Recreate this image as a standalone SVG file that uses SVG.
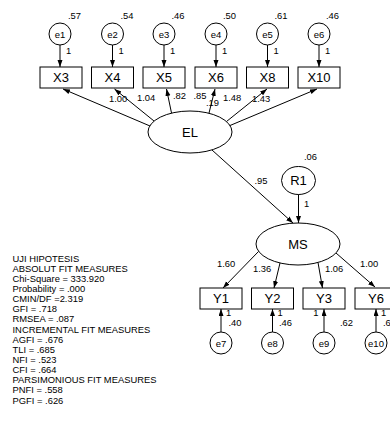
<svg xmlns="http://www.w3.org/2000/svg" width="390" height="421" viewBox="0 0 390 421">
<defs>
<marker id="ah" markerUnits="userSpaceOnUse" markerWidth="8" markerHeight="6" refX="7" refY="2.5" orient="auto">
<path d="M0,0 L7,2.5 L0,5 z" fill="#000"/>
</marker>
<style>
.n{fill:#fff;stroke:#000;stroke-width:1}
.c line{stroke:#000;stroke-width:1;marker-end:url(#ah)}
text{font-family:"Liberation Sans",Arial,sans-serif;fill:#000}
.big{font-size:13px;text-anchor:middle}
.e{font-size:9.5px;text-anchor:middle}
.s{font-size:9.4px}
.r{text-anchor:end}
</style>
</defs>
<rect width="390" height="421" fill="#fff"/>

<g id="connectors" class="c">
<line x1="60" y1="45" x2="60" y2="67"/>
<line x1="112.5" y1="45" x2="112.5" y2="67"/>
<line x1="164" y1="45" x2="164" y2="67"/>
<line x1="216" y1="45" x2="216" y2="67"/>
<line x1="267.5" y1="45" x2="267.5" y2="67"/>
<line x1="319" y1="45" x2="319" y2="67"/>
<line x1="150" y1="126" x2="63" y2="89"/>
<line x1="154" y1="121" x2="114.5" y2="89"/>
<line x1="171.5" y1="113" x2="166.5" y2="89"/>
<line x1="209" y1="113" x2="215" y2="89"/>
<line x1="226.5" y1="121.5" x2="267" y2="89"/>
<line x1="230" y1="125.5" x2="317" y2="89"/>
<line x1="212" y1="150" x2="293" y2="223"/>
<line x1="298.5" y1="194" x2="298.5" y2="223"/>
<line x1="258.5" y1="251.5" x2="223" y2="288"/>
<line x1="280" y1="263" x2="274" y2="288"/>
<line x1="318" y1="262.5" x2="322.5" y2="288"/>
<line x1="336" y1="253" x2="375" y2="287"/>
<line x1="221" y1="332" x2="221" y2="309"/>
<line x1="272.5" y1="332" x2="272.5" y2="309"/>
<line x1="324" y1="332" x2="324" y2="309"/>
<line x1="376" y1="332" x2="376" y2="309"/>
</g>

<g id="connector-labels" class="s">
<text x="66" y="54">1</text>
<text x="118.5" y="54">1</text>
<text x="170" y="54">1</text>
<text x="222" y="54">1</text>
<text x="273.5" y="54">1</text>
<text x="325" y="54">1</text>
<text x="109" y="102">1.00</text>
<text x="137" y="101">1.04</text>
<text x="173" y="98.5">.82</text>
<text x="193.5" y="98.5">.85</text>
<text x="206" y="106">.19</text>
<text x="223" y="101">1.48</text>
<text x="252" y="102">1.43</text>
<text x="254.5" y="184">.95</text>
<text x="304" y="207">1</text>
<text x="217" y="267">1.60</text>
<text x="253" y="272">1.36</text>
<text x="325" y="272">1.06</text>
<text x="360" y="267">1.00</text>
<text x="226" y="316">1</text>
<text x="277.5" y="316">1</text>
<text x="318.5" y="316" class="r">1</text>
<text x="381" y="316">1</text>
</g>

<g id="e1"><circle class="n" cx="60" cy="34" r="11"/><text class="e" x="60" y="37.5">e1</text><text class="s" x="68" y="18.5">.57</text></g>
<g id="e2"><circle class="n" cx="112.5" cy="34" r="11"/><text class="e" x="112.5" y="37.5">e2</text><text class="s" x="120.5" y="18.5">.54</text></g>
<g id="e3"><circle class="n" cx="164" cy="34" r="11"/><text class="e" x="164" y="37.5">e3</text><text class="s" x="171.5" y="18.5">.46</text></g>
<g id="e4"><circle class="n" cx="216" cy="34" r="11"/><text class="e" x="216" y="37.5">e4</text><text class="s" x="223" y="18.5">.50</text></g>
<g id="e5"><circle class="n" cx="267.5" cy="34" r="11"/><text class="e" x="267.5" y="37.5">e5</text><text class="s" x="274.5" y="18.5">.61</text></g>
<g id="e6"><circle class="n" cx="319" cy="34" r="11"/><text class="e" x="319" y="37.5">e6</text><text class="s" x="326" y="18.5">.46</text></g>

<g id="X3"><rect class="n" x="40" y="67" width="42" height="21"/><text class="big" x="61" y="82">X3</text></g>
<g id="X4"><rect class="n" x="91.5" y="67" width="42" height="21"/><text class="big" x="112.5" y="82">X4</text></g>
<g id="X5"><rect class="n" x="143" y="67" width="42" height="21"/><text class="big" x="164" y="82">X5</text></g>
<g id="X6"><rect class="n" x="195" y="67" width="42" height="21"/><text class="big" x="216" y="82">X6</text></g>
<g id="X8"><rect class="n" x="246.5" y="67" width="42" height="21"/><text class="big" x="267.5" y="82">X8</text></g>
<g id="X10"><rect class="n" x="298" y="67" width="42" height="21"/><text class="big" x="319" y="82">X10</text></g>

<g id="EL"><ellipse class="n" cx="190" cy="132" rx="42" ry="21"/><text class="big" x="190" y="137">EL</text></g>
<g id="R1"><ellipse class="n" cx="298.5" cy="180.5" rx="17" ry="14"/><text class="big" x="298.5" y="185">R1</text><text class="s" x="304" y="160">.06</text></g>
<g id="MS"><ellipse class="n" cx="298" cy="244" rx="42" ry="21"/><text class="big" x="298" y="249">MS</text></g>

<g id="Y1"><rect class="n" x="200" y="288" width="42" height="21"/><text class="big" x="221" y="303">Y1</text></g>
<g id="Y2"><rect class="n" x="251.5" y="288" width="42" height="21"/><text class="big" x="272.5" y="303">Y2</text></g>
<g id="Y3"><rect class="n" x="303" y="288" width="42" height="21"/><text class="big" x="324" y="303">Y3</text></g>
<g id="Y6"><rect class="n" x="355" y="288" width="42" height="21"/><text class="big" x="376" y="303">Y6</text></g>

<g id="e7"><circle class="n" cx="221" cy="343" r="11"/><text class="e" x="221" y="346.5">e7</text><text class="s" x="228.5" y="326">.40</text></g>
<g id="e8"><circle class="n" cx="272.5" cy="343" r="11"/><text class="e" x="272.5" y="346.5">e8</text><text class="s" x="279" y="326">.46</text></g>
<g id="e9"><circle class="n" cx="324" cy="343" r="11"/><text class="e" x="324" y="346.5">e9</text><text class="s" x="340" y="326">.62</text></g>
<g id="e10"><circle class="n" cx="376" cy="343" r="11"/><text class="e" x="376" y="346.5">e10</text><text class="s" x="383" y="326">.6</text></g>

<g id="fit-measures" class="s">
<text x="12.5" y="261.5">UJI HIPOTESIS</text>
<text x="12.5" y="271.6">ABSOLUT FIT MEASURES</text>
<text x="12.5" y="281.8">Chi-Square = 333.920</text>
<text x="12.5" y="291.9">Probability = .000</text>
<text x="12.5" y="302">CMIN/DF =2.319</text>
<text x="12.5" y="312.2">GFI = .718</text>
<text x="12.5" y="322.3">RMSEA = .087</text>
<text x="12.5" y="332.5">INCREMENTAL FIT MEASURES</text>
<text x="12.5" y="342.6">AGFI = .676</text>
<text x="12.5" y="352.8">TLI = .685</text>
<text x="12.5" y="362.9">NFI = .523</text>
<text x="12.5" y="373">CFI = .664</text>
<text x="12.5" y="383.2">PARSIMONIOUS FIT MEASURES</text>
<text x="12.5" y="393.3">PNFI = .558</text>
<text x="12.5" y="403.5">PGFI = .626</text>
</g>
</svg>
